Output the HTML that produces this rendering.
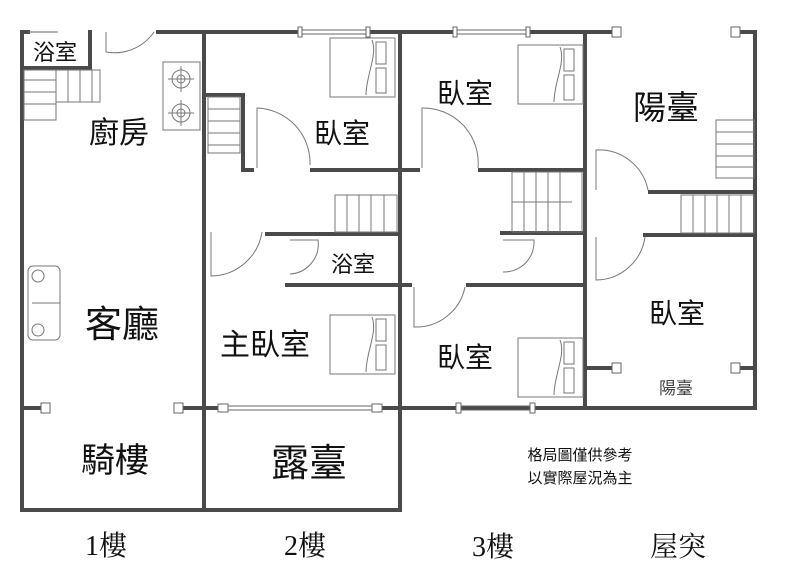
<!DOCTYPE html>
<html><head><meta charset="utf-8"><style>
body{margin:0;background:#fff;width:800px;height:576px;overflow:hidden}
svg text{font-family:"Liberation Sans","Noto Sans CJK TC",sans-serif;fill:#111;text-anchor:middle}
.s{font-family:"Liberation Serif","Noto Serif CJK SC",serif}
</style></head><body>
<svg width="800" height="576" viewBox="0 0 800 576" xmlns="http://www.w3.org/2000/svg">
<g stroke="#4a4a4a" stroke-width="4" fill="none" stroke-linecap="square">
<path d="M22 32V510H204"/>
<path d="M22 32H28M90 32V68H24M158 32H204"/>
<path d="M204 32V510"/>
<path d="M22 408H42M184 408H204"/>
<path d="M204 32H300M368 32H400V510H204"/>
<path d="M206 95H243V170H252M312 170H400"/>
<path d="M267 234H400M287 285H400"/>
<path d="M204 408H218M380 408H400"/>
<path d="M400 32H455M528 32H585V408H400"/>
<path d="M400 170H418M480 170H585"/>
<path d="M502 233H585M400 285H410M468 285H585"/>
<path d="M585 32H617M740 32H755V408H585"/>
<path d="M650 192H755M645 235H755"/>
<path d="M587 368H612M740 368H755"/>
</g>
<g stroke="#666" stroke-width="1" fill="#fff">
<line x1="28" y1="32" x2="58" y2="32"/>
<line x1="300" y1="30" x2="368" y2="30"/><line x1="300" y1="34" x2="368" y2="34"/>
<line x1="455" y1="30" x2="528" y2="30"/><line x1="455" y1="34" x2="528" y2="34"/>
<line x1="222" y1="406" x2="378" y2="406"/><line x1="222" y1="410" x2="378" y2="410"/>
<line x1="458" y1="406" x2="532" y2="406"/><line x1="458" y1="410" x2="532" y2="410"/>
<rect x="298" y="27" width="4" height="10"/><rect x="366" y="27" width="4" height="10"/>
<rect x="453" y="27" width="4" height="10"/><rect x="526" y="27" width="4" height="10"/>
<rect x="456" y="403" width="5" height="10"/><rect x="530" y="403" width="5" height="10"/>
<rect x="218" y="404" width="10" height="8"/><rect x="372" y="404" width="10" height="8"/>
<rect x="41" y="403" width="9" height="10"/><rect x="174" y="403" width="9" height="10"/>
<rect x="612" y="27" width="9" height="10"/><rect x="731" y="27" width="9" height="10"/>
<rect x="612" y="363" width="9" height="10"/><rect x="731" y="363" width="9" height="10"/>
</g>
<g stroke="#777" stroke-width="1" fill="none">
<path d="M106 32V52M106 52A48 48 0 0 0 154 32"/>
<path d="M257 168V108A55 55 0 0 1 310 165"/>
<path d="M211 232V276A52 52 0 0 0 262 232"/>
<path d="M290 240H318A30 30 0 0 1 290 274"/>
<path d="M422 168V108A55 55 0 0 1 478 168"/>
<path d="M503 240H534A30 30 0 0 1 503 272"/>
<path d="M414 287V327A50 50 0 0 0 465 287"/>
<path d="M596 190V150A50 50 0 0 1 648 190"/>
<path d="M596 237V280A50 50 0 0 0 645 237"/>
<rect x="24" y="70" width="32" height="50"/>
<path d="M24 80H56M24 92H56M24 104H56"/>
<rect x="56" y="70" width="44" height="32"/>
<path d="M68 70V102M80 70V102M92 70V102"/>
<rect x="163" y="62" width="37" height="68"/>
<circle cx="181" cy="79" r="9"/><circle cx="181" cy="79" r="4"/>
<circle cx="181" cy="113" r="9"/><circle cx="181" cy="113" r="4"/>
<path d="M181 66V92M168 79H194M181 100V126M168 113H194"/>
<rect x="28" y="266" width="32" height="74" rx="5"/>
<path d="M32 303H60"/><circle cx="38" cy="276" r="6"/><circle cx="38" cy="330" r="6"/>
<rect x="208" y="97" width="32" height="56"/>
<path d="M208 109H240M208 121H240M208 133H240M208 145H240"/>
<rect x="335" y="195" width="62" height="37"/>
<path d="M347 195V232M359 195V232M371 195V232M384 195V232"/>
<rect x="512" y="172" width="70" height="60"/>
<path d="M524 172V232M536 172V232M548 172V232M560 172V232M512 202H572"/>
<rect x="716" y="120" width="38" height="58"/>
<path d="M716 132H754M716 144H754M716 156H754M716 167H754"/>
<rect x="681" y="195" width="73" height="38"/>
<path d="M693 195V233M705 195V233M717 195V233M729 195V233M741 195V233"/>
<g id="bed"><rect x="330" y="38" width="65" height="59"/><rect x="376" y="42" width="10" height="22"/><rect x="376" y="68" width="10" height="25"/><path d="M372 40C378 55 366 75 366 95"/></g>
<use href="#bed" x="0" y="277"/>
<use href="#bed" x="188" y="7"/>
<use href="#bed" x="188" y="300"/>
</g>
<text x="55" y="60" font-size="22">浴室</text>
<text x="119" y="143" font-size="30">廚房</text>
<text x="122" y="337" font-size="37">客廳</text>
<text x="115" y="472" font-size="34">騎樓</text>
<text x="342" y="143" font-size="28">臥室</text>
<text x="353" y="272" font-size="22">浴室</text>
<text x="265" y="355" font-size="30">主臥室</text>
<text x="309" y="476" font-size="38">露臺</text>
<text x="465" y="103" font-size="28">臥室</text>
<text x="465" y="367" font-size="28">臥室</text>
<text x="666" y="119" font-size="33">陽臺</text>
<text x="677" y="323" font-size="28">臥室</text>
<text x="676" y="394" font-size="17" style="fill:#444">陽臺</text>
<text x="580" y="460" font-size="15">格局圖僅供參考</text>
<text x="580" y="483" font-size="15">以實際屋況為主</text>
<text class="s" x="106" y="555" font-size="28">1樓</text>
<text class="s" x="305" y="555" font-size="28">2樓</text>
<text class="s" x="493" y="556" font-size="28">3樓</text>
<text class="s" x="678" y="556" font-size="28">屋突</text>
</svg>
</body></html>
